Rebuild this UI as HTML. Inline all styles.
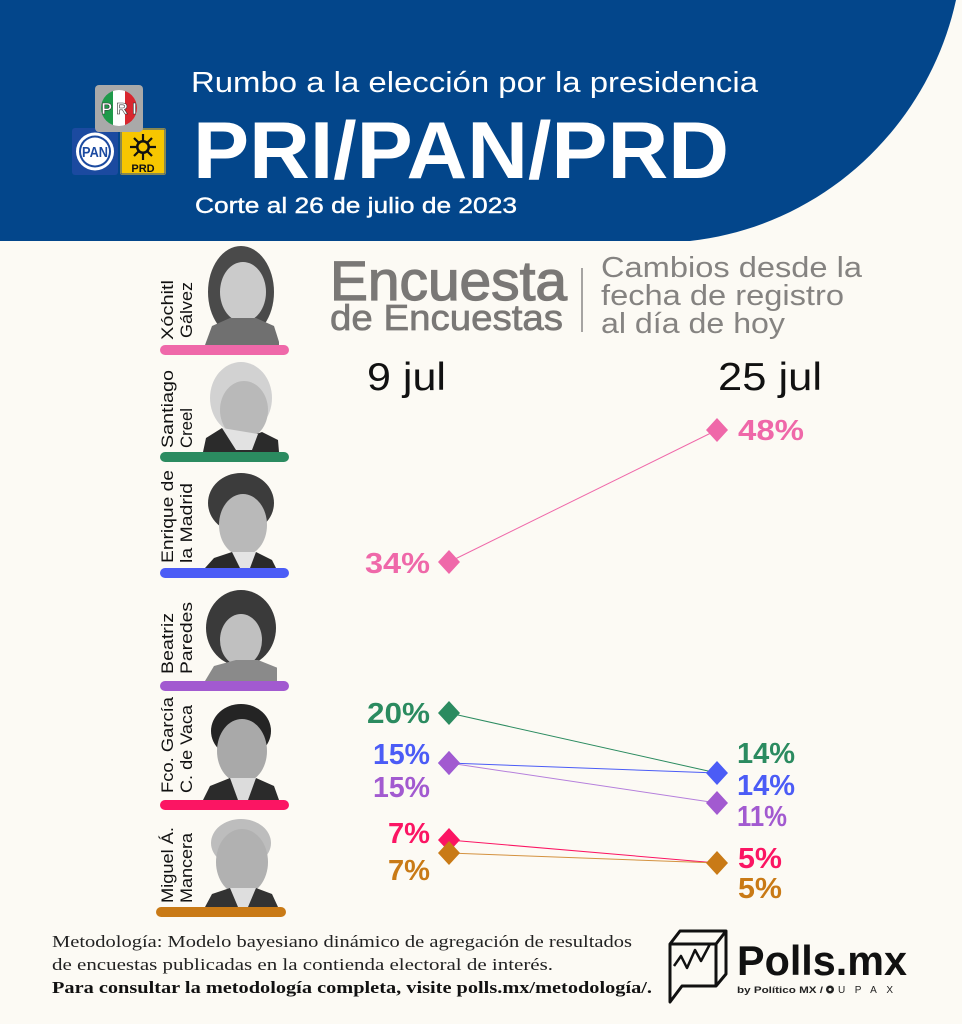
<!DOCTYPE html>
<html>
<head>
<meta charset="utf-8">
<style>
html,body{margin:0;padding:0;background:#fcfaf4;}
svg{display:block;}
</style>
</head>
<body>
<svg width="962" height="1024" viewBox="0 0 962 1024" xmlns="http://www.w3.org/2000/svg">
<rect x="0" y="0" width="962" height="1024" fill="#fcfaf4"/>
<!-- header -->
<path d="M0,0 H956 C930,120 830,225 690,241 H0 Z" fill="#03468b"/>

<!-- party logos -->
<rect x="72" y="128" width="46" height="47" rx="3" fill="#1b4aa0"/>
<circle cx="95" cy="151.5" r="19" fill="#ffffff"/>
<circle cx="95" cy="151.5" r="16" fill="#1b4aa0"/>
<circle cx="95" cy="151.5" r="14" fill="#ffffff"/>
<text x="95" y="157" font-family="Liberation Sans, sans-serif" font-weight="bold" font-size="15" fill="#1b4aa0" text-anchor="middle" textLength="26" lengthAdjust="spacingAndGlyphs">PAN</text>
<rect x="120" y="128" width="46" height="47" rx="2" fill="#f7c600"/>
<rect x="121" y="129" width="44" height="45" fill="none" stroke="#1b4aa0" stroke-width="1"/>
<g stroke="#111" stroke-width="2.2">
<line x1="143" y1="134" x2="143" y2="160"/><line x1="130" y1="147" x2="156" y2="147"/>
<line x1="134" y1="138" x2="152" y2="156"/><line x1="152" y1="138" x2="134" y2="156"/>
</g>
<circle cx="143" cy="147" r="7" fill="#111"/>
<circle cx="143" cy="147" r="4.5" fill="#f7c600"/>
<text x="143" y="172" font-family="Liberation Sans, sans-serif" font-weight="bold" font-size="11" fill="#111" text-anchor="middle">PRD</text>
<rect x="95" y="85" width="48" height="47" rx="4" fill="#a9a9a9"/>
<clipPath id="pric"><circle cx="119" cy="108" r="18"/></clipPath>
<g clip-path="url(#pric)">
<rect x="100" y="88" width="13" height="40" fill="#1f9a4a"/>
<rect x="113" y="88" width="12" height="40" fill="#ffffff"/>
<rect x="125" y="88" width="14" height="40" fill="#d8262e"/>
</g>
<text x="119" y="114" font-family="Liberation Sans, sans-serif" font-weight="bold" font-size="16" fill="#ffffff" text-anchor="middle" stroke="#333" stroke-width="0.6">P R I</text>

<!-- titles -->
<text x="191" y="92" font-family="Liberation Sans, sans-serif" font-size="29" fill="#ffffff" textLength="567" lengthAdjust="spacingAndGlyphs">Rumbo a la elección por la presidencia</text>
<text x="193" y="178" font-family="Liberation Sans, sans-serif" font-weight="bold" font-size="81" fill="#ffffff" textLength="536" lengthAdjust="spacingAndGlyphs">PRI/PAN/PRD</text>
<text x="195" y="213" font-family="Liberation Sans, sans-serif" font-size="22" fill="#ffffff" stroke="#ffffff" stroke-width="0.4" textLength="322" lengthAdjust="spacingAndGlyphs">Corte al 26 de julio de 2023</text>

<!-- Encuesta de encuestas -->
<text x="330" y="300" font-family="Liberation Sans, sans-serif" font-size="56" fill="#7a7876" stroke="#7a7876" stroke-width="1.3" textLength="237" lengthAdjust="spacingAndGlyphs">Encuesta</text>
<text x="330" y="330" font-family="Liberation Sans, sans-serif" font-size="36" fill="#7a7876" stroke="#7a7876" stroke-width="0.7" textLength="233" lengthAdjust="spacingAndGlyphs">de Encuestas</text>
<line x1="582" y1="268" x2="582" y2="332" stroke="#8a8886" stroke-width="1.5"/>
<g font-family="Liberation Sans, sans-serif" font-size="29" fill="#858381">
<text x="601" y="277" textLength="261" lengthAdjust="spacingAndGlyphs">Cambios desde la</text>
<text x="601" y="305" textLength="243" lengthAdjust="spacingAndGlyphs">fecha de registro</text>
<text x="601" y="333" textLength="184" lengthAdjust="spacingAndGlyphs">al día de hoy</text>
</g>
<g font-family="Liberation Sans, sans-serif" font-size="39" fill="#111">
<text x="367" y="390" textLength="79" lengthAdjust="spacingAndGlyphs">9 jul</text>
<text x="718" y="390" textLength="104" lengthAdjust="spacingAndGlyphs">25 jul</text>
</g>

<!-- photos -->
<defs>
<clipPath id="p1"><rect x="205" y="245" width="74" height="100"/></clipPath>
<clipPath id="p2"><rect x="203" y="358" width="76" height="94"/></clipPath>
<clipPath id="p3"><rect x="203" y="470" width="76" height="98"/></clipPath>
<clipPath id="p4"><rect x="205" y="588" width="72" height="93"/></clipPath>
<clipPath id="p5"><rect x="203" y="703" width="76" height="97"/></clipPath>
<clipPath id="p6"><rect x="203" y="816" width="76" height="91"/></clipPath>
</defs>
<g clip-path="url(#p1)">
<ellipse cx="241" cy="292" rx="33" ry="46" fill="#4a4a4a"/>
<ellipse cx="243" cy="292" rx="23" ry="30" fill="#cbcbcb"/>
<path d="M205,345 L212,326 L230,318 L256,318 L274,326 L280,345 Z" fill="#707070"/>
</g>
<g clip-path="url(#p2)">
<ellipse cx="241" cy="398" rx="31" ry="36" fill="#d2d2d2"/>
<ellipse cx="244" cy="410" rx="24" ry="29" fill="#b9b9b9"/>
<path d="M203,452 L206,438 L222,428 L240,440 L262,432 L278,440 L279,452 Z" fill="#2b2b2b"/>
<path d="M222,428 L236,450 L252,450 L258,434 Z" fill="#e2e2e2"/>
</g>
<g clip-path="url(#p3)">
<ellipse cx="241" cy="503" rx="33" ry="30" fill="#3c3c3c"/>
<ellipse cx="243" cy="525" rx="24" ry="31" fill="#b9b9b9"/>
<path d="M205,568 L214,558 L232,552 L256,552 L272,560 L276,568 Z" fill="#2a2a2a"/>
<path d="M232,552 L240,568 L250,568 L256,552 Z" fill="#e4e4e4"/>
</g>
<g clip-path="url(#p4)">
<ellipse cx="241" cy="628" rx="35" ry="38" fill="#3a3a3a"/>
<ellipse cx="241" cy="640" rx="21" ry="26" fill="#c0c0c0"/>
<path d="M205,681 L214,666 L236,660 L258,660 L278,668 L278,681 Z" fill="#8a8a8a"/>
</g>
<g clip-path="url(#p5)">
<ellipse cx="241" cy="731" rx="30" ry="27" fill="#242424"/>
<ellipse cx="242" cy="751" rx="25" ry="32" fill="#a9a9a9"/>
<path d="M203,800 L210,786 L230,778 L242,790 L256,778 L274,786 L279,800 Z" fill="#2b2b2b"/>
<path d="M230,778 L238,800 L248,800 L256,778 Z" fill="#dcdcdc"/>
</g>
<g clip-path="url(#p6)">
<ellipse cx="241" cy="843" rx="30" ry="24" fill="#bdbdbd"/>
<ellipse cx="242" cy="862" rx="26" ry="33" fill="#b1b1b1"/>
<path d="M205,907 L212,894 L230,888 L242,898 L256,888 L272,894 L278,907 Z" fill="#333"/>
<path d="M230,888 L238,907 L248,907 L256,888 Z" fill="#dedede"/>
</g>

<!-- color bars -->
<rect x="160" y="345" width="129" height="10" rx="5" fill="#ef68a9"/>
<rect x="160" y="452" width="129" height="10" rx="5" fill="#2b8b60"/>
<rect x="160" y="568" width="129" height="10" rx="5" fill="#4b5cf6"/>
<rect x="160" y="681" width="129" height="10" rx="5" fill="#a25ad0"/>
<rect x="160" y="800" width="129" height="10" rx="5" fill="#fb1563"/>
<rect x="156" y="907" width="130" height="10" rx="5" fill="#c97a16"/>

<!-- names (rotated) -->
<g font-family="Liberation Sans, sans-serif" font-size="17" fill="#111">
<text transform="translate(173,340) rotate(-90)" textLength="60" lengthAdjust="spacingAndGlyphs">Xóchitl</text>
<text transform="translate(192,338) rotate(-90)" textLength="56" lengthAdjust="spacingAndGlyphs">Gálvez</text>
<text transform="translate(173,448) rotate(-90)" textLength="78" lengthAdjust="spacingAndGlyphs">Santiago</text>
<text transform="translate(192,448) rotate(-90)" textLength="40" lengthAdjust="spacingAndGlyphs">Creel</text>
<text transform="translate(173,563) rotate(-90)" textLength="93" lengthAdjust="spacingAndGlyphs">Enrique de</text>
<text transform="translate(192,563) rotate(-90)" textLength="80" lengthAdjust="spacingAndGlyphs">la Madrid</text>
<text transform="translate(173,674) rotate(-90)" textLength="61" lengthAdjust="spacingAndGlyphs">Beatriz</text>
<text transform="translate(192,674) rotate(-90)" textLength="72" lengthAdjust="spacingAndGlyphs">Paredes</text>
<text transform="translate(173,793) rotate(-90)" textLength="96" lengthAdjust="spacingAndGlyphs">Fco. García</text>
<text transform="translate(192,793) rotate(-90)" textLength="88" lengthAdjust="spacingAndGlyphs">C. de Vaca</text>
<text transform="translate(173,903) rotate(-90)" textLength="76" lengthAdjust="spacingAndGlyphs">Miguel Á.</text>
<text transform="translate(192,903) rotate(-90)" textLength="70" lengthAdjust="spacingAndGlyphs">Mancera</text>
</g>

<!-- lines -->
<g stroke-width="1">
<line x1="449" y1="562" x2="717" y2="430" stroke="#ef68a9"/>
<line x1="449" y1="713" x2="717" y2="773" stroke="#2b8b60"/>
<line x1="449" y1="763" x2="717" y2="773" stroke="#4b5cf6"/>
<line x1="449" y1="763" x2="717" y2="803" stroke="#b57fdc"/>
<line x1="449" y1="840" x2="717" y2="863" stroke="#fb1563"/>
<line x1="449" y1="853" x2="717" y2="863" stroke="#d49240"/>
</g>

<!-- diamonds -->
<polygon points="449,550 460,562 449,574 438,562" fill="#ef68a9"/>
<polygon points="717,418 728,430 717,442 706,430" fill="#ef68a9"/>
<polygon points="449,701 460,713 449,725 438,713" fill="#2b8b60"/>
<polygon points="449,751 460,763 449,775 438,763" fill="#4b5cf6"/>
<polygon points="449,751 460,763 449,775 438,763" fill="#a25ad0"/>
<polygon points="717,761 728,773 717,785 706,773" fill="#4b5cf6"/>
<polygon points="717,791 728,803 717,815 706,803" fill="#a25ad0"/>
<polygon points="449,828 460,840 449,852 438,840" fill="#fb1563"/>
<polygon points="449,841 460,853 449,865 438,853" fill="#c97a16"/>
<polygon points="717,851 728,863 717,875 706,863" fill="#c97a16"/>

<!-- labels -->
<g font-family="Liberation Sans, sans-serif" font-weight="bold" font-size="29">
<text x="365" y="573" fill="#ef68a9" textLength="65" lengthAdjust="spacingAndGlyphs">34%</text>
<text x="738" y="440" fill="#ef68a9" textLength="66" lengthAdjust="spacingAndGlyphs">48%</text>
<text x="367" y="723" fill="#2b8b60" textLength="63" lengthAdjust="spacingAndGlyphs">20%</text>
<text x="373" y="764" fill="#4b5cf6" textLength="57" lengthAdjust="spacingAndGlyphs">15%</text>
<text x="373" y="797" fill="#a25ad0" textLength="57" lengthAdjust="spacingAndGlyphs">15%</text>
<text x="388" y="843" fill="#fb1563" textLength="42" lengthAdjust="spacingAndGlyphs">7%</text>
<text x="388" y="880" fill="#c97a16" textLength="42" lengthAdjust="spacingAndGlyphs">7%</text>
<text x="737" y="763" fill="#2b8b60" textLength="58" lengthAdjust="spacingAndGlyphs">14%</text>
<text x="737" y="795" fill="#4b5cf6" textLength="58" lengthAdjust="spacingAndGlyphs">14%</text>
<text x="737" y="826" fill="#a25ad0" textLength="50" lengthAdjust="spacingAndGlyphs">11%</text>
<text x="738" y="868" fill="#fb1563" textLength="44" lengthAdjust="spacingAndGlyphs">5%</text>
<text x="738" y="898" fill="#c97a16" textLength="44" lengthAdjust="spacingAndGlyphs">5%</text>
</g>

<!-- footer -->
<g font-family="Liberation Serif, serif" font-size="17" fill="#222">
<text x="52" y="947" textLength="580" lengthAdjust="spacingAndGlyphs">Metodología: Modelo bayesiano dinámico de agregación de resultados</text>
<text x="52" y="970" textLength="501" lengthAdjust="spacingAndGlyphs">de encuestas publicadas en la contienda electoral de interés.</text>
<text x="52" y="993" font-weight="bold" fill="#111" textLength="600" lengthAdjust="spacingAndGlyphs">Para consultar la metodología completa, visite polls.mx/metodología/.</text>
</g>

<!-- polls.mx logo -->
<g fill="none" stroke="#111" stroke-width="3" stroke-linejoin="round">
<path d="M670,944 L680,931 L726,931 L726,974 L716,986 L682,986 L670,1002 Z"/>
<path d="M670,944 L716,944 L716,986"/>
<path d="M716,944 L726,931"/>
<path d="M674,966 L681,956 L687,968 L695,950 L701,961 L710,944" stroke-width="2.5"/>
</g>
<text x="737" y="975" font-family="Liberation Sans, sans-serif" font-weight="bold" font-size="42" fill="#111" textLength="170" lengthAdjust="spacingAndGlyphs">Polls.mx</text>
<text x="737" y="993" font-family="Liberation Sans, sans-serif" font-weight="bold" font-size="9" fill="#222" textLength="86" lengthAdjust="spacingAndGlyphs">by Político MX  /</text>
<circle cx="830" cy="989.5" r="4" fill="#222"/>
<circle cx="830" cy="989.5" r="1.5" fill="#fcfaf4"/>
<text x="838" y="993" font-family="Liberation Sans, sans-serif" font-size="10" fill="#222" textLength="55" lengthAdjust="spacing">UPAX</text>
</svg>
</body>
</html>
